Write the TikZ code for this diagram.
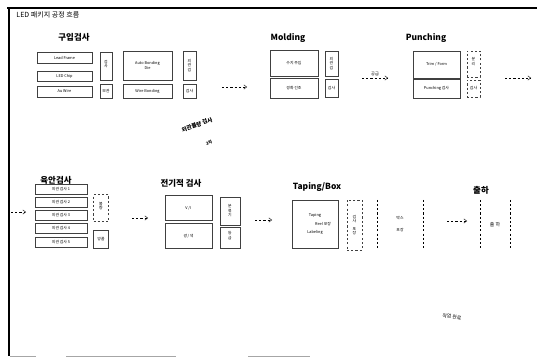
\documentclass[tikz,border=0pt]{standalone}
\usepackage{fontspec}
\setmainfont{Noto Sans CJK KR}
\usetikzlibrary{arrows.meta}

\begin{document}
\begin{tikzpicture}[x=0.05cm,y=-0.05cm]
  \tikzstyle{box}=[draw=black!75,line width=0.6pt,inner sep=1pt,align=center,
    font=\fontsize{5.5}{6.5}\selectfont]
  \tikzstyle{head}=[font=\fontsize{12}{14}\selectfont\bfseries]
  \tikzstyle{flow}=[draw,dashed,line width=0.6pt,-{Straight Barb[length=4pt,width=6pt]}]
  \def\vt#1#2#3{#1\\#2\\#3}

  \useasboundingbox (0,0) rectangle (537,360);
  % frame
  \draw [line width=2pt] (7,8) -- (537,8);
  \draw [line width=2.5pt] (9,8) -- (9,356);
  \draw [line width=1.2pt,black!35] (10,356) -- (36,356) (66,356) -- (176,356)
    (248,356) -- (310,356);
  \node [anchor=west,font=\fontsize{10}{11}\selectfont] (title) at (14,15)
    {LED 패키지 공정 흐름};

  % 구입검사
  \node [head] (h1) at (74,37) {구입검사};
  \node [box,minimum width=2.75cm,minimum height=0.55cm] (lf) at (64.5,57.5) {Lead Frame};
  \node [box,minimum width=2.75cm,minimum height=0.5cm] (chip) at (64.5,76) {LED Chip};
  \node [box,minimum width=2.75cm,minimum height=0.55cm] (wire) at (64.5,91.5) {Au Wire};
  \node [box,minimum width=0.6cm,minimum height=1.4cm] (s1a) at (106,66) {\vt{검}{사}{}};
  \node [box,minimum width=0.6cm,minimum height=0.7cm] (s1b) at (106,91) {보관};
  \node [box,minimum width=2.45cm,minimum height=1.45cm] (db) at (147.5,65.5)
    {Auto Bonding\\[2pt] Die};
  \node [box,minimum width=2.45cm,minimum height=0.7cm] (wb) at (147.5,91) {Wire Bonding};
  \node [box,minimum width=0.65cm,minimum height=1.45cm] (s2a) at (189.5,65.5) {\vt{외}{관}{검}};
  \node [box,minimum width=0.65cm,minimum height=0.7cm] (s2b) at (189.5,91) {검사};
  \coordinate (a1s) at (222,87);
  \coordinate (a1e) at (247,87);
  \path [flow] (a1s) -- (a1e);

  % Molding
  \node [head] (h2) at (288,38) {Molding};
  \node [box,minimum width=2.4cm,minimum height=1.3cm] (m1) at (294,63) {수지 주입};
  \node [box,minimum width=2.4cm,minimum height=1.0cm] (m2) at (294,88) {경화 건조};
  \node [box,minimum width=0.65cm,minimum height=1.25cm] (ms1) at (331.5,63.5) {\vt{외}{관}{검}};
  \node [box,minimum width=0.65cm,minimum height=0.9cm] (ms2) at (331.5,88) {검사};
  \coordinate (a2s) at (362,78);
  \coordinate (a2e) at (388,78);
  \path [flow] (a2s) -- node [above,font=\fontsize{6}{7}\selectfont] (a2l) {공급} (a2e);

  % Punching
  \node [head] (h3) at (426,38) {Punching};
  \node [box,minimum width=2.35cm,minimum height=1.35cm] (p1) at (436.5,64.5) {Trim / Form};
  \node [box,minimum width=2.35cm,minimum height=0.95cm] (p2) at (436.5,88.5) {Punching 검사};
  \node [box,dashed,minimum width=0.65cm,minimum height=1.3cm] (ps1) at (473.5,64) {\vt{분}{리}{}};
  \node [box,dashed,minimum width=0.65cm,minimum height=0.85cm] (ps2) at (473.5,88.5) {검사};
  \coordinate (a3s) at (505,78);
  \coordinate (a3e) at (531,78);
  \path [flow] (a3s) -- (a3e);

  % note
  \node [rotate=20,inner sep=0pt,font=\fontsize{8}{9}\selectfont\bfseries] (n1) at (197,125) {외관불량 검사};
  \node [rotate=20,inner sep=0pt,font=\fontsize{6}{7}\selectfont\bfseries] (n2) at (209,143) {2차};

  % 육안검사
  \coordinate (a4s) at (11,212);
  \coordinate (a4e) at (26,212);
  \path [flow] (a4s) -- (a4e);
  \node [head] (h4) at (56,180) {육안검사};
  \node [box,minimum width=2.6cm,minimum height=0.5cm] (v1) at (61,189) {외관 검사 1};
  \node [box,minimum width=2.6cm,minimum height=0.5cm] (v2) at (61,202) {외관 검사 2};
  \node [box,minimum width=2.6cm,minimum height=0.5cm] (v3) at (61,215) {외관 검사 3};
  \node [box,minimum width=2.6cm,minimum height=0.5cm] (v4) at (61,228) {외관 검사 4};
  \node [box,minimum width=2.6cm,minimum height=0.5cm] (v5) at (61,242) {외관 검사 5};
  \node [box,dashed,minimum width=0.75cm,minimum height=1.35cm] (vs1) at (101,208) {\vt{불}{량}{}};
  \node [box,minimum width=0.75cm,minimum height=0.9cm] (vs2) at (101,239) {양품};
  \coordinate (a5s) at (132,218);
  \coordinate (a5e) at (148,218);
  \path [flow] (a5s) -- (a5e);

  % 전기적 검사
  \node [head] (h5) at (181,183) {전기적 검사};
  \node [box,minimum width=2.35cm,minimum height=1.25cm] (e1) at (188.5,208) {V\,/\,I};
  \node [box,minimum width=2.35cm,minimum height=1.25cm] (e2) at (188.5,236) {광\,/\,색};
  \node [box,minimum width=1.0cm,minimum height=1.4cm] (es1) at (230,211) {\vt{분}{류}{기}};
  \node [box,minimum width=1.0cm,minimum height=1.05cm] (es2) at (230,238) {\vt{등}{급}{}};
  \coordinate (a6s) at (255,220);
  \coordinate (a6e) at (272,220);
  \path [flow] (a6s) -- (a6e);

  % Taping/Box
  \node [head] (h6) at (317,187) {Taping/Box};
  \node [box,minimum width=2.3cm,minimum height=2.4cm] (t1) at (315,224)
    {Taping\\[6pt]\hspace*{8mm}Reel 포장\\[6pt]Labeling};
  \node [box,dashed,minimum width=0.75cm,minimum height=2.5cm] (ts) at (354.5,225)
    {검\\사\\[4pt]포\\장};
  \node [box,draw=none,minimum width=2.3cm,minimum height=2.4cm] (tb) at (400,224)
    {박스\\[10pt]포장};
  \draw [dashed,line width=0.6pt] (tb.north west) -- (tb.south west)
    (tb.north east) -- (tb.south east);
  \coordinate (a7s) at (447,221);
  \coordinate (a7e) at (467,221);
  \path [flow] (a7s) -- (a7e);

  % 출하
  \node [head] (h7) at (481,190) {출하};
  \node [box,draw=none,minimum width=1.5cm,minimum height=2.5cm,
    font=\fontsize{7}{8}\selectfont] (sh) at (495,225) {출 하};
  \draw [dashed,line width=0.6pt] (sh.north west) -- (sh.south west)
    (sh.north east) -- (sh.south east);

  \node [rotate=-10,font=\fontsize{7}{8}\selectfont] (done) at (452,317) {작업 완료};
\end{tikzpicture}
\end{document}
